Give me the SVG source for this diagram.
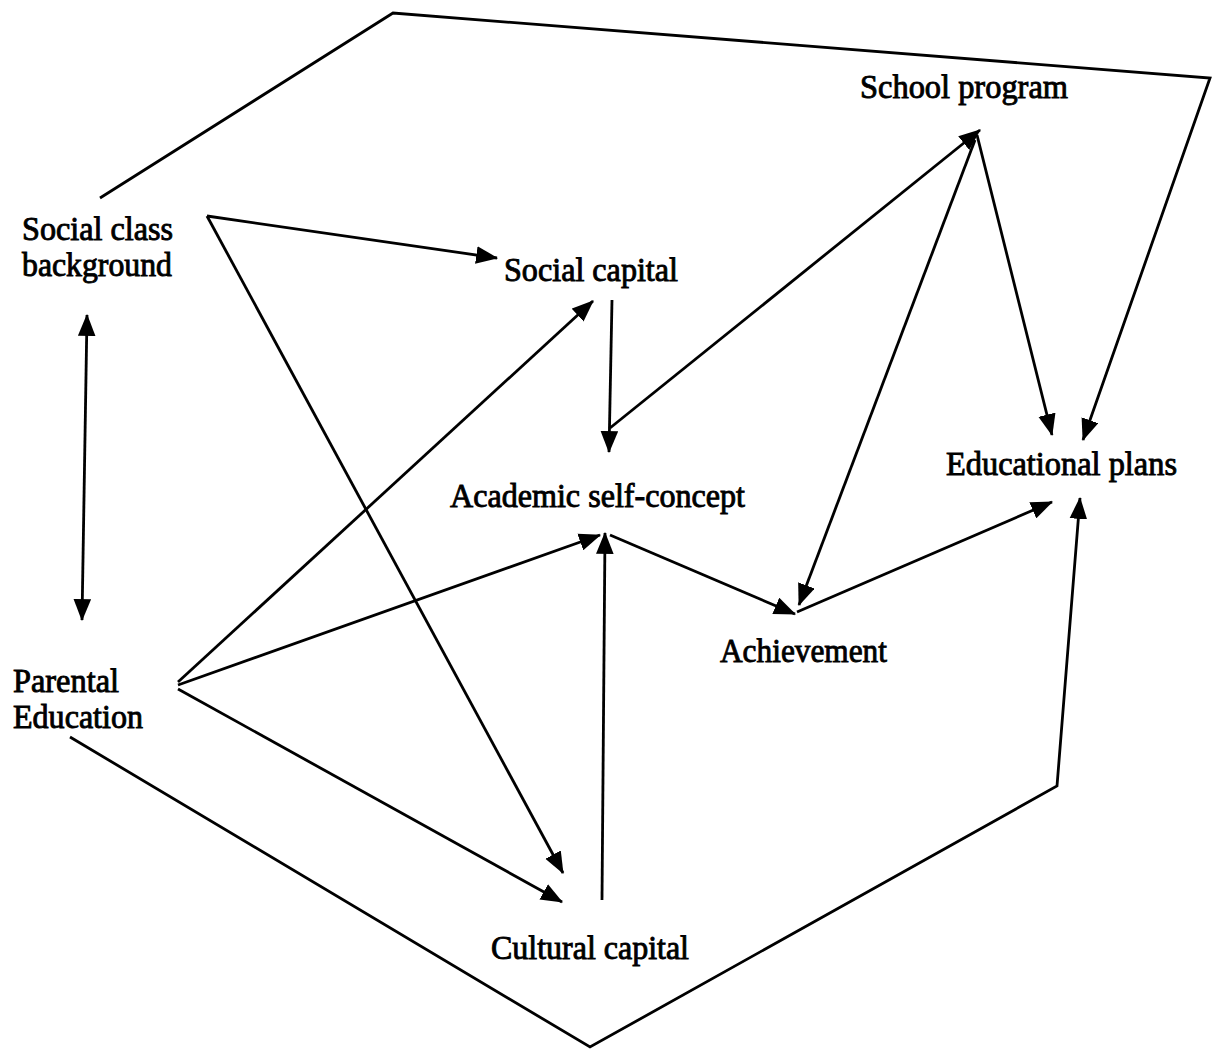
<svg xmlns="http://www.w3.org/2000/svg" width="1212" height="1049" viewBox="0 0 1212 1049">
<style>
.lbl{font-family:"Liberation Serif","Times New Roman",serif;font-size:33px;fill:#000;stroke:#000;stroke-width:0.9}
.ln{fill:none;stroke:#000;stroke-width:2.8;stroke-linejoin:miter;stroke-linecap:butt}
</style>
<defs>
<marker id="ah" viewBox="0 0 20 16" refX="19" refY="8" markerWidth="22" markerHeight="18" markerUnits="userSpaceOnUse" orient="auto-start-reverse">
<path d="M0,0 L20,8 L0,16 z" fill="#000"/>
</marker>
</defs>
<rect width="1212" height="1049" fill="#fff"/>
<g id="connectors">
<polyline class="ln" points="100,198 393,13 1210,78 1083,440" marker-end="url(#ah)"/>
<line class="ln" x1="207" y1="216" x2="497" y2="258" marker-end="url(#ah)"/>
<line class="ln" x1="207" y1="216" x2="563" y2="873" marker-end="url(#ah)"/>
<line class="ln" x1="87" y1="315" x2="82" y2="620" marker-start="url(#ah)" marker-end="url(#ah)"/>
<line class="ln" x1="612" y1="300" x2="609" y2="452" marker-end="url(#ah)"/>
<line class="ln" x1="610" y1="428" x2="980" y2="130" marker-end="url(#ah)"/>
<line class="ln" x1="977" y1="135" x2="1052" y2="435" marker-end="url(#ah)"/>
<line class="ln" x1="975" y1="140" x2="799" y2="605" marker-end="url(#ah)"/>
<line class="ln" x1="178" y1="682" x2="593" y2="301" marker-end="url(#ah)"/>
<line class="ln" x1="178" y1="685" x2="600" y2="535" marker-end="url(#ah)"/>
<line class="ln" x1="178" y1="689" x2="562" y2="902" marker-end="url(#ah)"/>
<line class="ln" x1="602" y1="900" x2="605" y2="533" marker-end="url(#ah)"/>
<line class="ln" x1="610" y1="535" x2="795" y2="614" marker-end="url(#ah)"/>
<line class="ln" x1="797" y1="612" x2="1052" y2="502" marker-end="url(#ah)"/>
<polyline class="ln" points="70,737 590,1047 1057,786 1080,498" marker-end="url(#ah)"/>
</g>
<g id="node-school-program"><text class="lbl" x="860" y="98" textLength="208" lengthAdjust="spacingAndGlyphs">School program</text></g>
<g id="node-social-class"><text class="lbl" x="22" y="240" textLength="151" lengthAdjust="spacingAndGlyphs">Social class</text><text class="lbl" x="22" y="276" textLength="150" lengthAdjust="spacingAndGlyphs">background</text></g>
<g id="node-social-capital"><text class="lbl" x="504" y="281" textLength="174" lengthAdjust="spacingAndGlyphs">Social capital</text></g>
<g id="node-academic-self-concept"><text class="lbl" x="450" y="507" textLength="295" lengthAdjust="spacingAndGlyphs">Academic self-concept</text></g>
<g id="node-educational-plans"><text class="lbl" x="946" y="475" textLength="231" lengthAdjust="spacingAndGlyphs">Educational plans</text></g>
<g id="node-achievement"><text class="lbl" x="720" y="662" textLength="167" lengthAdjust="spacingAndGlyphs">Achievement</text></g>
<g id="node-parental-education"><text class="lbl" x="13" y="692" textLength="106" lengthAdjust="spacingAndGlyphs">Parental</text><text class="lbl" x="13" y="728" textLength="130" lengthAdjust="spacingAndGlyphs">Education</text></g>
<g id="node-cultural-capital"><text class="lbl" x="491" y="959" textLength="198" lengthAdjust="spacingAndGlyphs">Cultural capital</text></g>
</svg>
